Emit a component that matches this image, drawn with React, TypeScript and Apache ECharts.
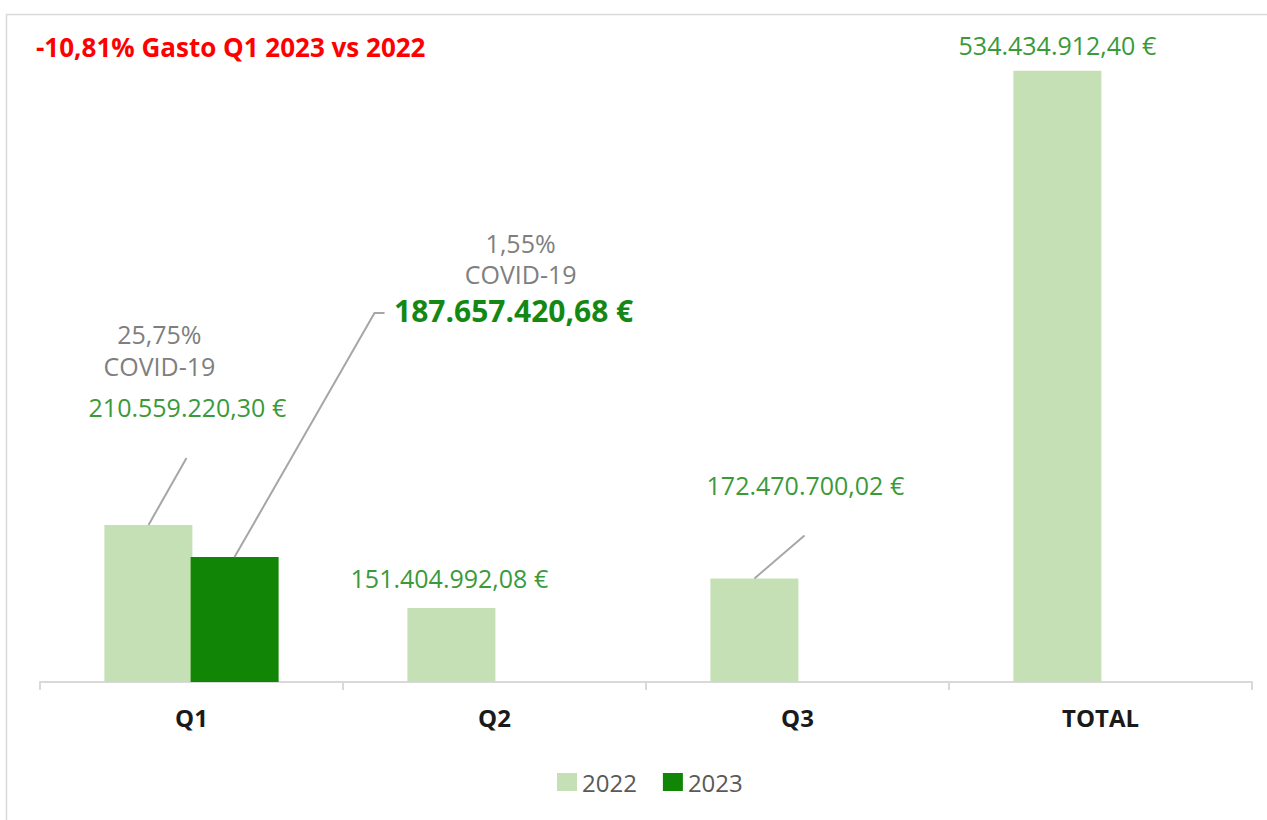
import React, { useEffect, useRef } from "react";
import * as echarts from "echarts";

// ---------- data ----------
const categories = ["Q1", "Q2", "Q3", "TOTAL"];
const seriesNames = ["2022", "2023"];
const values2022 = [210559220.3, 151404992.08, 172470700.02, 534434912.4];
const values2023: (number | null)[] = [187657420.68, null, null, null];
const covidShare2022: (string | null)[] = ["25,75%", null, null, null];
const covidShare2023: (string | null)[] = ["1,55%", null, null, null];
const covidTag = "COVID-19";
const headline = "-10,81% Gasto Q1 2023 vs 2022";

// ---------- styles / layout ----------
const FONT = "'Open Sans', 'Noto Sans', sans-serif";
const C_LIGHT = "#c5e0b4";
const C_DARK = "#108506";
const C_VALUE = "#3a9a3a";
const C_VALUE_BOLD = "#148814";
const C_GRAY = "#7f7f7f";
const C_LEADER = "#a6a6a6";
const BAR_W = 88;
const BAR_HALF_SPACING = 43; // center of each bar relative to category center

// label offsets (px) per category, relative to the bar top centre
const LABEL_OFF_2022 = [
  [39, -93],
  [-2, -16],
  [51, -79],
  [0, -12],
];
const LABEL_OFF_2023 = [[279, -225], null, null, null];

// leader line bends (px) relative to bar top centre
const LEADERS: { series: number; cat: number; pts: number[][] }[] = [
  { series: 0, cat: 0, pts: [[38, -67]] },
  { series: 1, cat: 0, pts: [[140, -244], [150, -244]] },
  { series: 0, cat: 2, pts: [[50, -43]] },
];

function fmtEuro(v: number): string {
  const [i, d] = v.toFixed(2).split(".");
  return i.replace(/\B(?=(\d{3})+(?!\d))/g, ".") + "," + d + " €";
}

export default function App() {
  const ref = useRef<HTMLDivElement>(null);

  useEffect(() => {
    if (!ref.current) return;
    const chart = echarts.init(ref.current, undefined, { renderer: "svg" });

    const data2022 = values2022.map((v, i) => {
      const off = LABEL_OFF_2022[i];
      const share = covidShare2022[i];
      return {
        value: v,
        label: {
          show: true,
          position: "top",
          distance: 0,
          offset: off,
          formatter: share
            ? `{p|${share}}\n{p|${covidTag}}\n{v|${fmtEuro(v)}}`
            : `{v|${fmtEuro(v)}}`,
          rich: {
            p: {
              fontFamily: FONT,
              fontSize: 25,
              color: C_GRAY,
              lineHeight: 32,
              padding: [0, 56, 0, 0],
            },
            v: {
              fontFamily: FONT,
              fontSize: 25,
              color: C_VALUE,
              lineHeight: share ? 50 : 28,
            },
          },
        },
      };
    });

    const data2023 = values2023.map((v, i) => {
      if (v == null) return { value: null };
      const off = LABEL_OFF_2023[i] || [0, 0];
      const share = covidShare2023[i];
      return {
        value: v,
        label: {
          show: true,
          position: "top",
          distance: 0,
          offset: off,
          formatter: share
            ? `{p|${share}}\n{p|${covidTag}}\n{b|${fmtEuro(v)}}`
            : `{b|${fmtEuro(v)}}`,
          rich: {
            p: {
              fontFamily: FONT,
              fontSize: 25,
              color: C_GRAY,
              lineHeight: 31,
              padding: [0, 0, 0, 14],
            },
            b: {
              fontFamily: FONT,
              fontSize: 30,
              fontWeight: "bold",
              color: C_VALUE_BOLD,
              lineHeight: 43,
            },
          },
        },
      };
    });

    const leaderData = LEADERS.map((l) => [
      l.cat,
      (l.series === 0 ? values2022 : values2023)[l.cat] as number,
    ]);

    const option: any = {
      animation: false,
      textStyle: { fontFamily: FONT },
      title: {
        text: headline,
        left: 31,
        top: 29,
        textStyle: {
          fontFamily: FONT,
          fontSize: 26,
          fontWeight: "bold",
          color: "#ff0000",
        },
      },
      graphic: [
        {
          type: "rect",
          left: 4,
          top: 12,
          silent: true,
          z: -10,
          shape: { width: 1400, height: 900 },
          style: { fill: "none", stroke: "#d9d9d9", lineWidth: 1.5 },
        },
      ],
      legend: {
        data: seriesNames,
        left: 552,
        top: 765,
        itemWidth: 20,
        itemHeight: 18,
        itemGap: 26,
        icon: "rect",
        textStyle: { fontFamily: FONT, fontSize: 24, color: "#595959" },
      },
      grid: { left: 40, right: 15, top: 49, bottom: 138 },
      xAxis: {
        type: "category",
        data: categories,
        axisLine: { lineStyle: { color: "#d9d9d9", width: 2 } },
        axisTick: { show: true, length: 8, lineStyle: { color: "#d9d9d9", width: 2 } },
        axisLabel: {
          margin: 23,
          fontFamily: FONT,
          fontSize: 24,
          fontWeight: "bold",
          color: "#1a1a1a",
        },
      },
      yAxis: {
        type: "value",
        min: 98600000,
        max: 550000000,
        show: false,
        splitLine: { show: false },
      },
      series: [
        {
          name: seriesNames[0],
          type: "bar",
          barWidth: BAR_W,
          barGap: "-2%",
          itemStyle: { color: C_LIGHT },
          data: data2022,
        },
        {
          name: seriesNames[1],
          type: "bar",
          barWidth: BAR_W,
          barGap: "-2%",
          itemStyle: { color: C_DARK },
          data: data2023,
        },
        {
          name: "leaders",
          type: "custom",
          silent: true,
          z: 5,
          data: leaderData,
          renderItem: (params: any, api: any) => {
            const l = LEADERS[params.dataIndex];
            const p = api.coord([api.value(0), api.value(1)]);
            const x0 = p[0] + (l.series === 0 ? -BAR_HALF_SPACING : BAR_HALF_SPACING);
            const y0 = p[1];
            const pts = [[x0, y0], ...l.pts.map(([dx, dy]) => [x0 + dx, y0 + dy])];
            return {
              type: "polyline",
              shape: { points: pts },
              style: { stroke: C_LEADER, lineWidth: 2, fill: null },
            };
          },
        },
      ],
    };

    chart.setOption(option);
    return () => chart.dispose();
  }, []);

  return (
    <div
      ref={ref}
      style={{ position: "fixed", left: 0, top: 0, width: 1267, height: 820, background: "#fff" }}
    />
  );
}
